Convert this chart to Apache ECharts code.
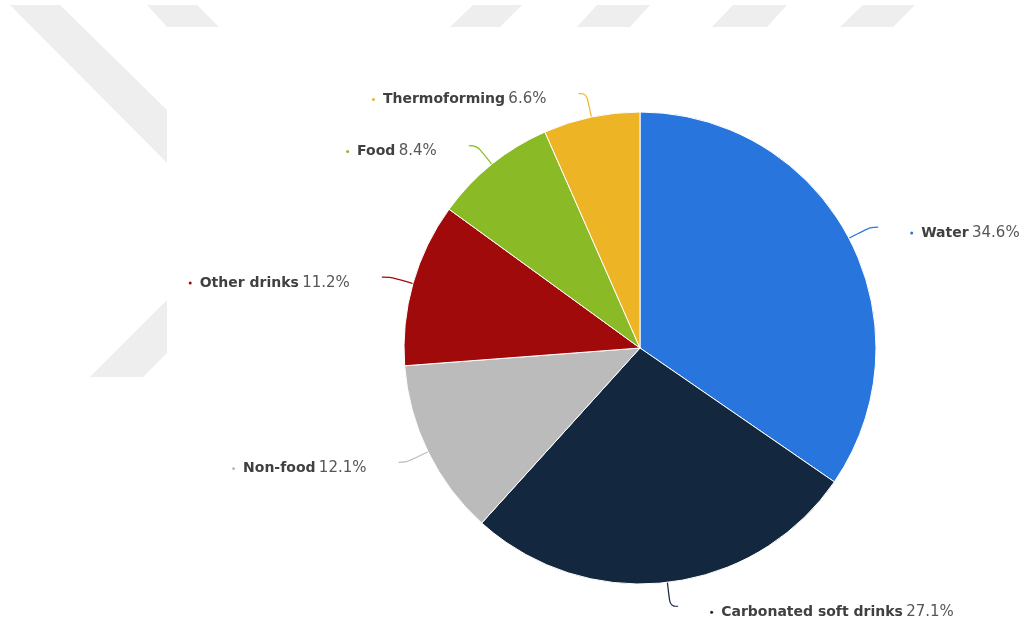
<!DOCTYPE html>
<html>
<head>
<meta charset="utf-8">
<title>Plastic packaging by end use</title>
<script src="https://cdn.jsdelivr.net/npm/echarts@6/dist/echarts.min.js"></script>
<style>
  html, body { margin: 0; padding: 0; background: #ffffff; }
  #chart { width: 1031px; height: 627px; }
</style>
</head>
<body>
<div id="chart"></div>
<script>
// Share of end uses (%)
const categories = ['Water', 'Carbonated soft drinks', 'Non-food', 'Other drinks', 'Food', 'Thermoforming'];
const shares = [34.6, 27.1, 12.1, 11.2, 8.4, 6.6];
const sliceColors = ['#2876dd', '#13273f', '#bbbbbb', '#a10a0a', '#8aba25', '#edb426'];

const FONT = '"DejaVu Sans", Verdana, sans-serif';

// Faint background watermark shapes
const bgShapes = [
  [[10, 5], [60, 5], [167, 110], [167, 163]],
  [[147, 5], [197, 5], [219, 27], [167, 27]],
  [[90, 377], [167, 300], [167, 353], [143, 377]],
  [[473, 5], [522, 5], [500, 27], [450, 27]],
  [[597, 5], [650, 5], [630, 27], [577, 27]],
  [[733, 5], [787, 5], [767, 27], [712, 27]],
  [[863, 5], [915, 5], [893, 27], [840, 27]]
];

const pieData = categories.map((name, i) => ({
  name: name,
  value: shares[i],
  itemStyle: { color: sliceColors[i] },
  labelLine: { lineStyle: { color: sliceColors[i] } },
  label: {
    rich: {
      dot: { width: 3, height: 3, borderRadius: 2, backgroundColor: sliceColors[i] },
      gap: { width: 8 },
      nm: { fontFamily: FONT, fontSize: 14, fontWeight: 'bold', color: '#404040' },
      val: { fontFamily: FONT, fontSize: 15, color: '#575757' }
    }
  }
}));

const chart = echarts.init(document.getElementById('chart'), null, { renderer: 'canvas' });
chart.setOption({
  backgroundColor: '#ffffff',
  animation: false,
  graphic: bgShapes.map(pts => ({
    type: 'polygon',
    z: -10,
    silent: true,
    shape: { points: pts },
    style: { fill: '#eeeeee' }
  })),
  series: [{
    type: 'pie',
    center: [640, 348],
    radius: [0, 236],
    startAngle: 90,
    clockwise: true,
    avoidLabelOverlap: false,
    itemStyle: { borderColor: '#ffffff', borderWidth: 1 },
    label: {
      show: true,
      position: 'outside',
      distanceToLabelLine: 32,
      padding: [12, 0, 0, 0],
      formatter: p => '{dot|}{gap|}{nm|' + p.name + '} {val|' + p.value.toFixed(1) + '%}'
    },
    labelLine: {
      show: true,
      length: 24,
      length2: 8,
      smooth: 0.4,
      lineStyle: { width: 1.2 }
    },
    data: pieData
  }]
});
</script>
</body>
</html>
